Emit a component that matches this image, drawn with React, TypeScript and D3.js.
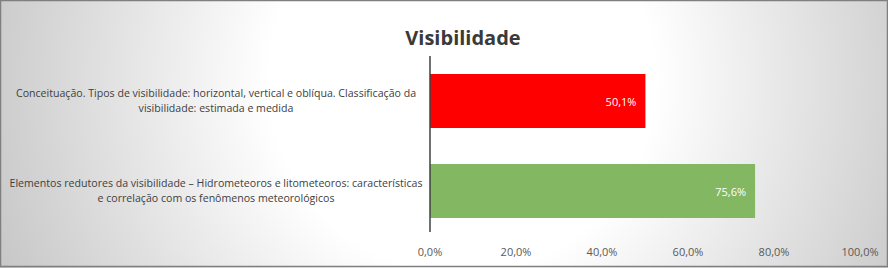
import React from "react";
import * as d3 from "d3";

const categories: string[][] = [
  ["Conceituação. Tipos de visibilidade: horizontal, vertical e oblíqua. Classificação da", "visibilidade: estimada e medida"],
  ["Elementos redutores da visibilidade – Hidrometeoros e litometeoros: características", "e correlação com os fenômenos meteorológicos"],
];
const values: number[] = [50.1, 75.6];
const barColors: string[] = ["#FF0000", "#83B762"];
const tickValues: number[] = [0, 20, 40, 60, 80, 100];
const title = "Visibilidade";

const W = 888;
const H = 268;

export default function App() {
  const x = d3.scaleLinear().domain([0, 100]).range([430, 860]);
  const y = d3
    .scaleBand<number>()
    .domain(categories.map((_, i) => i))
    .range([56, 236])
    .paddingInner(0.4)
    .paddingOuter(0.2);
  const fmt = (v: number) => d3.format(".1f")(v).replace(".", ",") + "%";
  const font = "'Open Sans', 'DejaVu Sans', sans-serif";

  return (
    <div style={{ position: "absolute", left: 0, top: 0, width: W, height: H }}>
      <svg width={W} height={H} style={{ display: "block" }}>
        <defs>
          <radialGradient id="bg" cx="52%" cy="30%" r="62%" gradientUnits="objectBoundingBox" gradientTransform="translate(0.52,0.3) scale(1,3.3) translate(-0.52,-0.3)">
            <stop offset="0%" stopColor="#ffffff" />
            <stop offset="35%" stopColor="#ffffff" />
            <stop offset="100%" stopColor="#bdbdbd" />
          </radialGradient>
        </defs>
        <rect x={0} y={0} width={W} height={H} fill="url(#bg)" />
        <rect x={0.5} y={0.5} width={W - 1} height={H - 2} fill="none" stroke="#7f7f7f" strokeWidth={1.5} />
        <text x={463} y={45} textAnchor="middle" fontFamily={font} fontWeight={700} fontSize={20} fill="#3a3a3a">
          {title}
        </text>
        {values.map((v, i) => (
          <g key={i}>
            <rect x={x(0)} y={y(i)!} width={x(v) - x(0)} height={y.bandwidth()} fill={barColors[i]} />
            <text
              x={x(v) - 9}
              y={y(i)! + y.bandwidth() / 2 + 5}
              textAnchor="end"
              fontFamily={font}
              fontSize={11}
              fill="#ffffff"
            >
              {fmt(v)}
            </text>
          </g>
        ))}
        {categories.map((lines, i) => (
          <text key={i} textAnchor="middle" fontFamily={font} fontSize={10.6} fill="#404040">
            {lines.map((l, j) => (
              <tspan key={j} x={216} y={y(i)! + y.bandwidth() / 2 - 4 + j * 15}>
                {l}
              </tspan>
            ))}
          </text>
        ))}
        <line x1={x(0)} x2={x(0)} y1={56} y2={232} stroke="#404040" strokeWidth={1.5} />
        {tickValues.map((t) => (
          <text key={t} x={x(t)} y={256} textAnchor="middle" fontFamily={font} fontSize={11} fill="#595959">
            {fmt(t)}
          </text>
        ))}
      </svg>
    </div>
  );
}
